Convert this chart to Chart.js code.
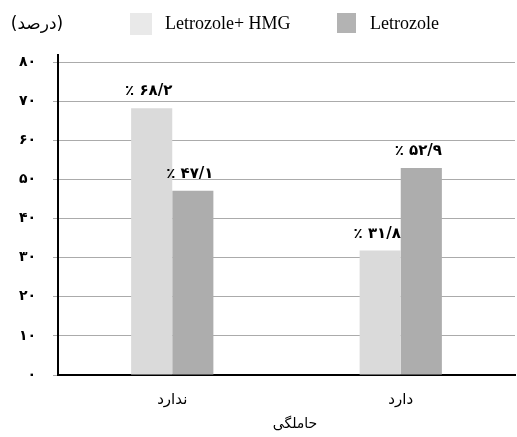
<!DOCTYPE html>
<html>
<head>
<meta charset="utf-8">
<script src="https://cdn.jsdelivr.net/npm/chart.js@4/dist/chart.umd.min.js"></script>
<style>
  html, body { margin: 0; padding: 0; background: #fff; }
  #wrap { width: 517px; height: 437px; }
</style>
</head>
<body>
<div id="wrap"><canvas id="chart" width="517" height="437"></canvas></div>
<script>
// Chart data
const categories = ['ندارد', 'دارد'];
const seriesNames = ['Letrozole+ HMG', 'Letrozole'];
const hmgValues = [68.2, 31.8];
const letrozoleValues = [47.1, 52.9];
const hmgLabels = ['٪ ۶۸/۲', '٪ ۳۱/۸'];
const letrozoleLabels = ['٪ ۴۷/۱', '٪ ۵۲/۹'];
const yTickLabels = ['۰', '۱۰', '۲۰', '۳۰', '۴۰', '۵۰', '۶۰', '۷۰', '۸۰'];
const yTitle = '(درصد)';
const xTitle = 'حاملگی';

const barColors = ['#dadada', '#adadad'];
const legendColors = ['#e9e9e9', '#b3b3b3'];
const persianFont = "'DejaVu Sans', sans-serif";
const serifFont = "'Liberation Serif', 'DejaVu Serif', serif";

// value labels above bars + legend + titles
const decorPlugin = {
  id: 'decor',
  afterDatasetsDraw(chart) {
    const ctx = chart.ctx;
    const labelSets = [hmgLabels, letrozoleLabels];
    ctx.save();
    ctx.fillStyle = '#000';
    ctx.font = 'bold 15px ' + persianFont;
    ctx.textAlign = 'center';
    ctx.textBaseline = 'alphabetic';
    chart.data.datasets.forEach((ds, di) => {
      chart.getDatasetMeta(di).data.forEach((bar, i) => {
        ctx.fillText(labelSets[di][i], bar.x - 3, bar.y - 13);
      });
    });
    ctx.restore();
  },
  afterDraw(chart) {
    const ctx = chart.ctx;
    const area = chart.chartArea;
    ctx.save();
    // y axis line pokes above the top gridline
    ctx.strokeStyle = '#000';
    ctx.lineWidth = 2;
    ctx.beginPath();
    ctx.moveTo(area.left, area.top - 8);
    ctx.lineTo(area.left, area.top);
    ctx.stroke();

    ctx.fillStyle = '#000';
    ctx.textBaseline = 'middle';
    ctx.textAlign = 'center';
    // y title
    ctx.font = '17px ' + persianFont;
    ctx.fillText(yTitle, 37, 25);
    // x title
    ctx.font = '14px ' + persianFont;
    ctx.fillText(xTitle, 295, 424);

    // legend
    const items = [
      { box: [130, 13, 22, 22], textX: 165 },
      { box: [337, 13, 19, 20], textX: 370 }
    ];
    ctx.font = '18px ' + serifFont;
    ctx.textAlign = 'left';
    items.forEach((it, i) => {
      ctx.fillStyle = legendColors[i];
      ctx.fillRect(...it.box);
      ctx.fillStyle = '#000';
      ctx.fillText(chart.data.datasets[i].label, it.textX, 24);
    });
    ctx.restore();
  }
};

new Chart(document.getElementById('chart'), {
  type: 'bar',
  data: {
    labels: categories,
    datasets: [
      { label: seriesNames[0], data: hmgValues, backgroundColor: barColors[0] },
      { label: seriesNames[1], data: letrozoleValues, backgroundColor: barColors[1] }
    ]
  },
  options: {
    responsive: false,
    animation: false,
    devicePixelRatio: 1,
    layout: { padding: { top: 62, right: 2, left: 0, bottom: 0 } },
    datasets: {
      bar: { barPercentage: 1, categoryPercentage: 0.36 }
    },
    plugins: {
      legend: { display: false },
      tooltip: { enabled: false }
    },
    scales: {
      x: {
        afterFit(scale) { scale.height = 62; },
        grid: { display: false, drawTicks: false },
        border: { display: true, color: '#000', width: 2 },
        ticks: {
          color: '#000',
          padding: 16,
          font: { family: persianFont, size: 15 }
        }
      },
      y: {
        min: 0,
        max: 80,
        afterFit(scale) { scale.width = 58; },
        grid: { color: '#ababab', lineWidth: 1, tickLength: 5 },
        border: { display: true, color: '#000', width: 2 },
        ticks: {
          stepSize: 10,
          color: '#000',
          padding: 17,
          font: { family: persianFont, size: 14, weight: 'bold' },
          callback: (v, i) => yTickLabels[i]
        }
      }
    }
  },
  plugins: [decorPlugin]
});
</script>
</body>
</html>
